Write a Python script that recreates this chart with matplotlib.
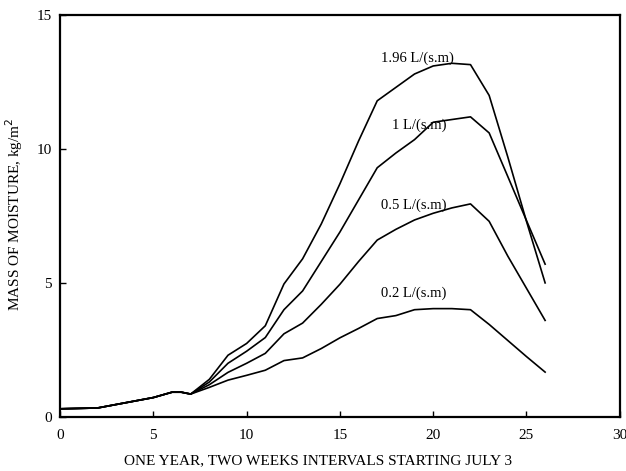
import matplotlib
matplotlib.use("Agg")
import matplotlib.pyplot as plt

plt.rcParams['font.family'] = ['Liberation Serif', 'DejaVu Serif']

# Shared start (same for all flows)
x_common = [0, 2, 5, 6, 6.5, 7]
y_common = [0.3, 0.33, 0.72, 0.92, 0.92, 0.85]

x_rest = [8, 9, 10, 11, 12, 13, 14, 15, 16, 17, 18, 19, 20, 21, 22, 23, 24, 25, 26]
y_196 = [1.4, 2.3, 2.74, 3.4, 4.96, 5.9, 7.2, 8.7, 10.3, 11.8, 12.3, 12.8, 13.1, 13.2, 13.15, 12.0, 9.7, 7.3, 5.0]
y_100 = [1.3, 2.0, 2.45, 2.96, 4.0, 4.7, 5.8, 6.9, 8.1, 9.3, 9.85, 10.35, 11.0, 11.1, 11.2, 10.6, 8.97, 7.33, 5.7]
y_050 = [1.2, 1.66, 2.0, 2.37, 3.1, 3.5, 4.2, 4.95, 5.8, 6.6, 7.0, 7.35, 7.6, 7.8, 7.95, 7.3, 6.0, 4.8, 3.6]
y_020 = [1.1, 1.37, 1.55, 1.74, 2.1, 2.2, 2.55, 2.95, 3.3, 3.67, 3.78, 4.0, 4.04, 4.04, 4.0, 3.45, 2.85, 2.25, 1.67]

labels = ["1.96 L/(s.m)", "1 L/(s.m)", "0.5 L/(s.m)", "0.2 L/(s.m)"]
series = [y_196, y_100, y_050, y_020]
label_xy = [(17.2, 13.4), (17.8, 10.9), (17.2, 7.9), (17.2, 4.6)]

fig = plt.figure(figsize=(6.26, 4.71), dpi=100)
ax = fig.add_axes([0.096, 0.115, 0.894, 0.853])

for ys, lab, (lx, ly) in zip(series, labels, label_xy):
    ax.plot(x_common + x_rest, y_common + ys, color='black', lw=1.2)
    ax.text(lx, ly, lab, fontsize=10.5, ha='left', va='center')

ax.set_xlim(0, 30)
ax.set_ylim(0, 15)
ax.set_xticks([0, 5, 10, 15, 20, 25, 30])
ax.set_yticks([0, 5, 10, 15])
ax.tick_params(direction='in', length=4, width=1, labelsize=11)
ax.tick_params(axis='y', pad=6)
ax.tick_params(axis='x', pad=9)
for s in ax.spines.values():
    s.set_linewidth(1.6)

ax.set_xlabel("ONE YEAR, TWO WEEKS INTERVALS STARTING JULY 3", fontsize=11)
ax.set_ylabel("MASS OF MOISTURE, kg/m$^2$", fontsize=11)
ax.xaxis.set_label_coords(0.46, -0.092)
ax.yaxis.set_label_coords(-0.062, 0.505)

fig.savefig("out.png", dpi=100)
